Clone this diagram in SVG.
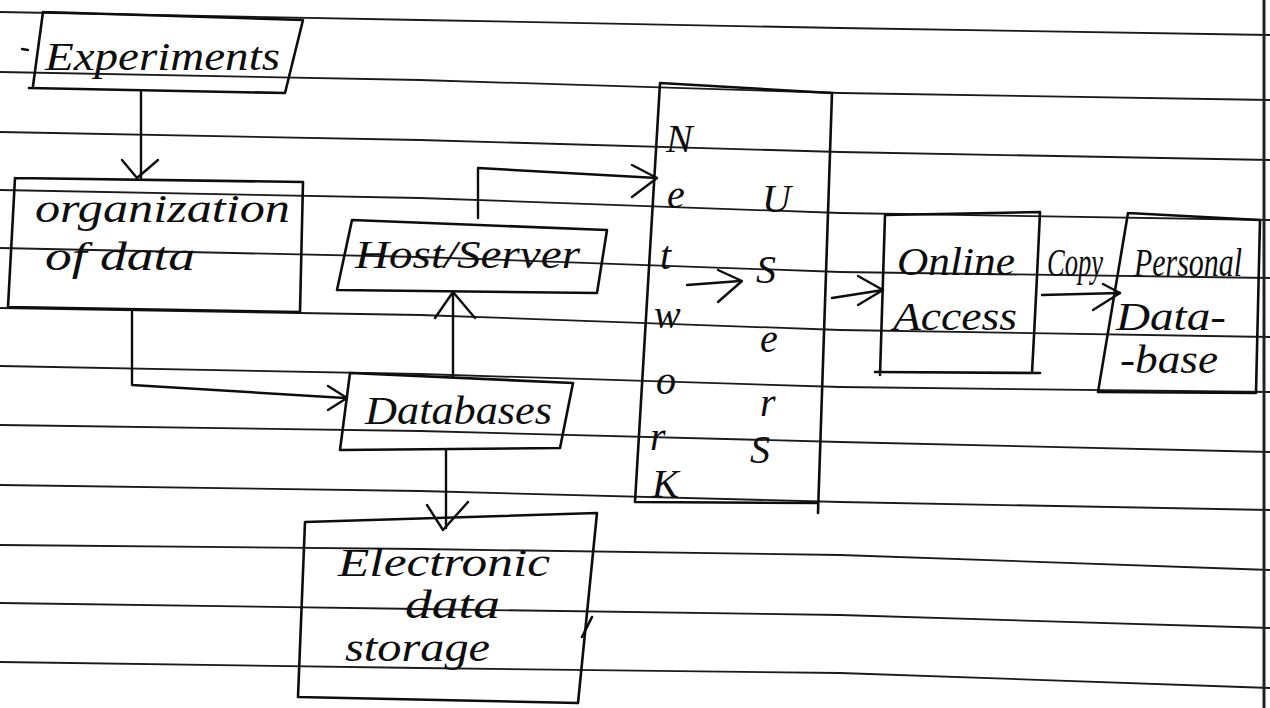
<svg xmlns="http://www.w3.org/2000/svg" width="1270" height="708" viewBox="0 0 1270 708">
<defs>
<style>
.rule{fill:none;stroke:#1a1a1a;stroke-width:1.8}
.box{fill:none;stroke:#0d0d0d;stroke-width:2.6;stroke-linejoin:round;stroke-linecap:round}
.con{fill:none;stroke:#0d0d0d;stroke-width:2.4;stroke-linejoin:round;stroke-linecap:round}
.t{font-family:"Liberation Serif","DejaVu Serif",serif;font-style:italic;fill:#0d0d0d;font-size:40px}
.s{font-size:40px}
</style>
</defs>
<rect x="0" y="0" width="1270" height="708" fill="#ffffff"/>
<g id="ruled-paper">
<polyline class="rule" points="0,12 420,20 840,28 1270,35"/>
<polyline class="rule" points="0,72 420,80 840,93 1270,100"/>
<polyline class="rule" points="0,132 420,140 840,152 1270,160"/>
<polyline class="rule" points="0,190 420,198 840,213 1270,220"/>
<polyline class="rule" points="0,248 420,257 840,272 1270,278"/>
<polyline class="rule" points="0,308 420,315 840,330 1270,337"/>
<polyline class="rule" points="0,366 420,374 840,387 1270,392"/>
<polyline class="rule" points="0,425 420,431 840,442 1270,452"/>
<polyline class="rule" points="0,485 420,491 840,502 1270,510"/>
<polyline class="rule" points="0,545 420,549 840,555 1270,570"/>
<polyline class="rule" points="0,603 420,609 840,615 1270,628"/>
<polyline class="rule" points="0,662 420,668 840,673 1270,688"/>
<line x1="1264" y1="0" x2="1264" y2="708" stroke="#222" stroke-width="3"/>
</g>
<g id="connectors">
<path class="con" d="M141,92 L141,178"/>
<path class="con" d="M122,160 L137,178 L158,160"/>
<path class="con" d="M132,312 L132,385 L345,398"/>
<path class="con" d="M328,386 L347,398 L328,410"/>
<path class="con" d="M478,218 L478,168 L657,178"/>
<path class="con" d="M632,165 L657,178 L632,197"/>
<path class="con" d="M453,377 L453,292"/>
<path class="con" d="M435,318 L453,292 L475,318"/>
<path class="con" d="M446,450 L446,528"/>
<path class="con" d="M427,505 L443,530 L468,502"/>
<path class="con" d="M687,285 L740,281"/>
<path class="con" d="M718,270 L742,281 L718,302"/>
<path class="con" d="M832,298 L883,290"/>
<path class="con" d="M858,276 L883,290 L858,305"/>
<path class="con" d="M1042,295 L1120,293"/>
<path class="con" d="M1103,284 L1120,293 L1093,310"/>
<text class="t" x="1047" y="276" font-size="26" textLength="56" lengthAdjust="spacingAndGlyphs">Copy</text>
</g>
<g id="experiments">
<path class="box" d="M43,12 L303,20 L285,93 L29,88 M43,12 L33,86"/>
<path class="con" d="M22,49 L28,50"/>
<text class="t" x="45" y="70" textLength="235" lengthAdjust="spacingAndGlyphs">Experiments</text>
</g>
<g id="organization">
<path class="box" d="M15,178 L303,182 L300,312 M15,178 L8,307 L300,312"/>
<text class="t" x="35" y="222" textLength="255" lengthAdjust="spacingAndGlyphs">organization</text>
<text class="t" x="45" y="270" textLength="150" lengthAdjust="spacingAndGlyphs">of data</text>
</g>
<g id="host-server">
<path class="box" d="M352,220 L607,230 L597,293 L337,290 Z"/>
<text class="t" x="355" y="268" font-size="42" textLength="225" lengthAdjust="spacingAndGlyphs">Host/Server</text>
</g>
<g id="databases">
<path class="box" d="M350,373 L573,383 L560,448 L340,450 Z"/>
<text class="t" x="365" y="424" textLength="187" lengthAdjust="spacingAndGlyphs">Databases</text>
</g>
<g id="electronic-data-storage">
<path class="box" d="M305,522 L597,513 L578,703 L298,697 Z"/>
<path class="box" d="M592,617 L582,637"/>
<text class="t" x="338" y="576" font-size="34" textLength="212" lengthAdjust="spacingAndGlyphs">Electronic</text>
<text class="t" x="405" y="618" font-size="32" textLength="95" lengthAdjust="spacingAndGlyphs">data</text>
<text class="t" x="345" y="661" font-size="32" textLength="145" lengthAdjust="spacingAndGlyphs">storage</text>
</g>
<g id="network-users">
<path class="box" d="M660,83 L832,93 L818,513 M660,83 L635,502 L818,503"/>
<text class="t s" x="666" y="152">N</text>
<text class="t s" x="667" y="208">e</text>
<text class="t s" x="660" y="269">t</text>
<text class="t s" x="654" y="328">w</text>
<text class="t s" x="656" y="394">o</text>
<text class="t s" x="650" y="450">r</text>
<text class="t s" x="652" y="497">K</text>
<text class="t s" x="762" y="212">U</text>
<text class="t s" x="756" y="283">S</text>
<text class="t s" x="760" y="352">e</text>
<text class="t s" x="760" y="416">r</text>
<text class="t s" x="750" y="463">S</text>
</g>
<g id="online-access">
<path class="box" d="M885,215 L1040,212 Q1036,300 1032,373 M885,215 L880,375 M875,372 L1040,373"/>
<text class="t" x="897" y="275" textLength="118" lengthAdjust="spacingAndGlyphs">Online</text>
<text class="t" x="893" y="330" font-size="44" textLength="124" lengthAdjust="spacingAndGlyphs">Access</text>
</g>
<g id="personal-database">
<path class="box" d="M1128,213 L1260,220 L1256,393 L1098,392 L1128,213"/>
<text class="t" x="1134" y="276" font-size="32" textLength="108" lengthAdjust="spacingAndGlyphs">Personal</text>
<text class="t" x="1116" y="330" font-size="34" textLength="110" lengthAdjust="spacingAndGlyphs">Data-</text>
<text class="t" x="1120" y="373" font-size="34" textLength="98" lengthAdjust="spacingAndGlyphs">-base</text>
</g>
</svg>
